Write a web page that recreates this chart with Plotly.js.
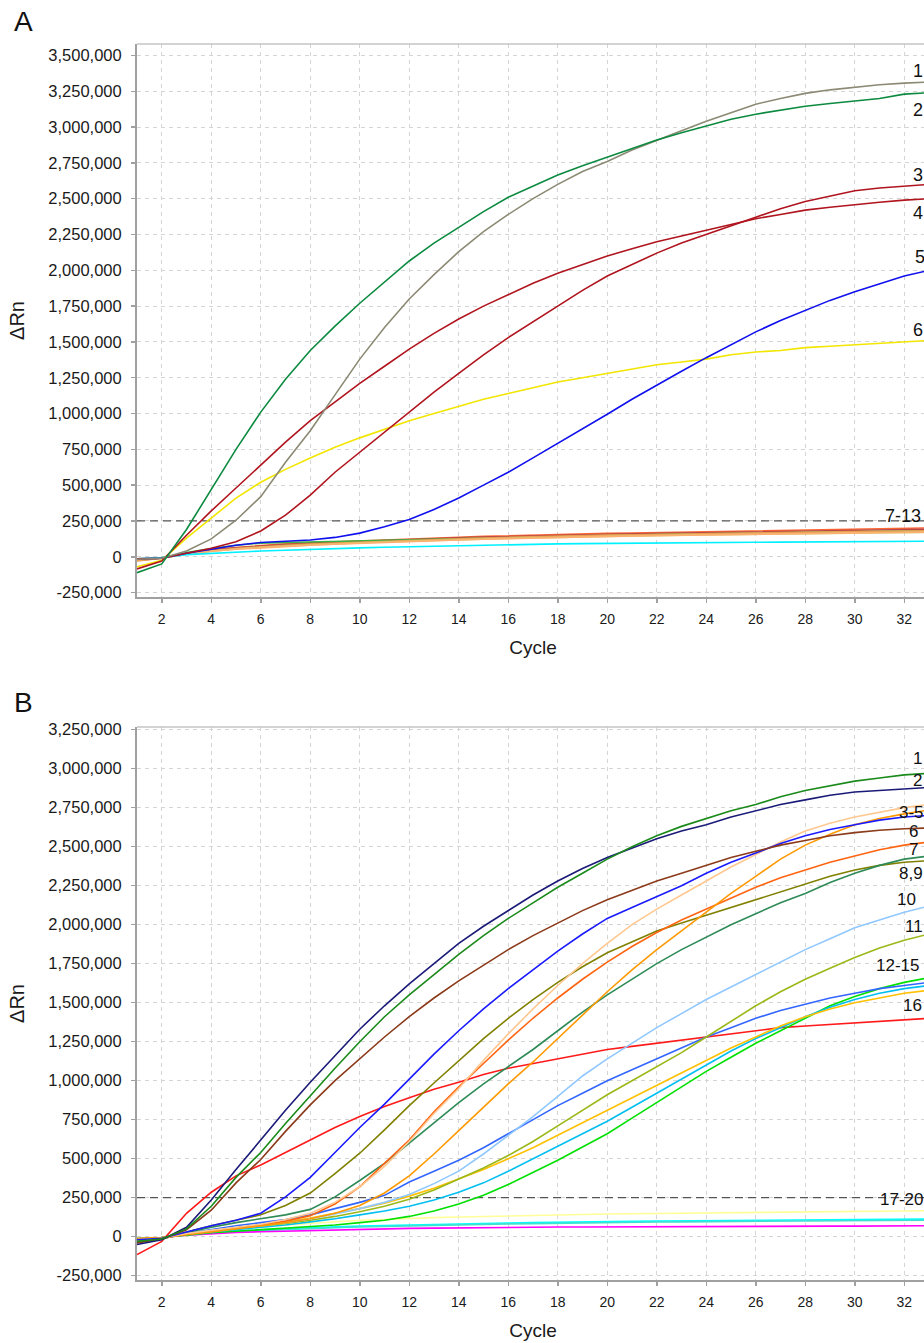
<!DOCTYPE html>
<html>
<head>
<meta charset="utf-8">
<script src="https://cdn.plot.ly/plotly-3.0.1.min.js"></script>
<style>
html,body{margin:0;padding:0;background:#fff;overflow:hidden;}
#chart{width:940px;height:1343px;}
</style>
</head>
<body>
<div id="chart"></div>
<script>
// ---------- DATA ----------
const cycles = [1,2,3,4,5,6,7,8,9,10,11,12,13,14,15,16,17,18,19,20,21,22,23,24,25,26,27,28,29,30,31,32,33];
const threshold = 250000;
const yTicksA = [-250000,0,250000,500000,750000,1000000,1250000,1500000,1750000,2000000,2250000,2500000,2750000,3000000,3250000,3500000];
const yTicksB = [-250000,0,250000,500000,750000,1000000,1250000,1500000,1750000,2000000,2250000,2500000,2750000,3000000,3250000];
const xTicks = [2,4,6,8,10,12,14,16,18,20,22,24,26,28,30,32];

// Panel A series (values in thousands of ΔRn)
const a1  = [-17,-10,40,125,255,420,660,880,1130,1380,1600,1800,1970,2130,2270,2390,2500,2600,2690,2760,2840,2910,2975,3040,3100,3160,3200,3235,3260,3280,3295,3307,3315];
const a2  = [-111,-50,190,470,750,1010,1240,1440,1610,1770,1920,2065,2190,2300,2410,2510,2590,2665,2730,2790,2850,2910,2960,3010,3055,3090,3120,3145,3165,3180,3200,3230,3240];
const a3  = [-15,-10,25,60,105,180,290,430,590,730,870,1010,1150,1280,1410,1530,1640,1750,1860,1960,2040,2120,2190,2250,2310,2370,2430,2480,2520,2555,2575,2590,2600];
const a4  = [-85,-30,150,320,480,640,800,950,1080,1210,1330,1450,1560,1660,1750,1830,1910,1980,2040,2100,2150,2200,2240,2280,2320,2360,2390,2420,2440,2460,2475,2490,2500];
const a5  = [-15,-10,25,55,80,100,107,117,135,165,210,260,330,410,500,590,690,790,895,995,1100,1200,1295,1390,1480,1570,1650,1720,1790,1850,1905,1960,2000];
const a6  = [-70,-25,130,270,410,520,610,690,765,830,890,950,1000,1050,1100,1140,1180,1220,1250,1280,1310,1340,1360,1380,1410,1430,1440,1460,1470,1480,1490,1500,1510];
const a7  = [-20,-8,25,50,65,80,90,98,105,112,118,124,130,136,142,147,152,156,160,163,166,169,172,175,178,181,184,187,190,193,196,199,201];
const a8  = [-25,-10,22,47,62,76,86,94,101,108,114,120,126,132,137,142,146,150,154,157,160,163,166,169,172,175,178,181,184,187,189,191,193];
const a9  = [-20,-8,30,58,80,95,100,104,108,112,116,120,124,128,132,136,140,143,146,149,152,155,158,161,164,167,170,172,174,176,178,180,182];
const a10 = [-30,-10,20,42,58,70,80,88,95,102,108,114,120,126,131,136,140,144,148,151,154,157,160,163,166,168,170,172,174,176,178,180,182];
const a11 = [-15,-8,20,40,55,66,75,83,90,97,103,109,114,119,124,128,132,136,139,142,145,148,151,153,155,157,159,161,163,165,167,169,170];
const a12 = [-20,-8,18,38,52,63,72,80,87,94,100,106,112,117,122,127,131,135,139,142,145,148,151,154,157,159,161,163,165,167,169,171,172];
const a13 = [-15,-5,15,25,32,40,45,52,57,62,66,70,74,78,82,85,88,90,92,94,96,97,98,99,100,101,102,103,104,105,106,107,108];

// Panel B series (values in thousands of ΔRn)
const b1  = [-30,-15,50,195,380,540,725,905,1080,1250,1410,1550,1680,1810,1930,2040,2140,2240,2330,2420,2500,2570,2630,2680,2730,2770,2820,2860,2890,2920,2940,2960,2970];
const b2  = [-50,-20,60,235,430,620,810,990,1160,1330,1480,1620,1750,1880,1990,2090,2190,2280,2360,2430,2490,2550,2600,2640,2690,2730,2770,2800,2830,2850,2860,2870,2880];
const b3  = [-20,-10,20,40,60,80,110,150,220,320,450,610,790,950,1130,1300,1460,1610,1750,1880,2000,2100,2190,2280,2370,2450,2530,2600,2650,2690,2720,2750,2770];
const b4  = [-10,-5,15,30,50,70,90,115,150,200,280,390,530,680,830,980,1120,1270,1420,1570,1710,1840,1960,2080,2200,2310,2420,2510,2580,2640,2680,2710,2735];
const b5  = [-20,-10,30,70,105,150,255,380,540,700,850,1010,1170,1320,1460,1590,1710,1830,1940,2040,2110,2180,2250,2330,2400,2460,2520,2570,2610,2640,2670,2690,2700];
const b6  = [-40,-15,45,170,345,495,675,845,1000,1140,1280,1410,1530,1640,1740,1840,1930,2010,2090,2160,2220,2280,2330,2380,2430,2470,2510,2540,2570,2590,2605,2615,2620];
const b7  = [-20,-10,15,35,55,75,100,135,210,320,470,620,800,960,1110,1260,1400,1530,1650,1760,1860,1950,2030,2100,2170,2240,2300,2350,2400,2440,2480,2510,2530];
const b8  = [-30,-15,25,60,90,115,140,175,255,360,470,600,730,860,980,1090,1200,1320,1440,1550,1650,1750,1840,1920,2000,2070,2140,2200,2270,2330,2380,2420,2440];
const b9  = [-30,-15,30,70,105,140,200,280,405,535,685,840,985,1130,1270,1400,1520,1630,1730,1820,1890,1960,2010,2060,2110,2160,2210,2260,2310,2350,2380,2400,2410];
const b10 = [-20,-10,20,40,60,75,90,115,145,180,220,270,340,420,530,650,770,900,1030,1140,1240,1340,1430,1520,1600,1680,1760,1840,1910,1980,2030,2080,2120];
const b11 = [-25,-10,20,40,55,70,85,105,130,160,195,240,300,370,440,520,610,710,810,910,1000,1090,1180,1280,1380,1480,1570,1650,1720,1790,1850,1900,1940];
const b12 = [-20,-10,20,45,70,90,110,140,180,220,265,350,420,490,570,660,750,840,920,1000,1070,1140,1210,1280,1340,1400,1450,1490,1530,1560,1590,1610,1630];
const b13 = [-15,-5,15,30,45,60,75,95,115,140,165,195,235,285,345,420,500,580,660,740,830,920,1010,1100,1190,1270,1340,1410,1470,1520,1560,1590,1610];
const b14 = [-15,-5,15,35,55,75,95,120,150,180,215,260,310,370,430,500,570,650,730,810,890,970,1050,1130,1210,1280,1350,1410,1460,1500,1530,1560,1580];
const b15 = [-15,-5,10,25,35,45,55,65,75,90,105,130,165,210,265,335,410,490,575,660,760,860,960,1060,1150,1240,1320,1400,1480,1540,1590,1630,1660];
const b16 = [-115,-30,150,285,390,460,540,620,700,770,835,890,945,990,1040,1080,1110,1140,1170,1200,1220,1240,1260,1280,1300,1320,1340,1350,1360,1370,1380,1390,1400];
const b17 = [-15,-5,20,40,55,65,75,85,95,105,110,118,122,126,130,134,138,140,142,145,147,149,151,153,155,157,159,160,162,163,165,166,167];
const b18 = [-10,-5,15,30,38,45,52,58,63,68,72,75,79,82,85,88,90,93,95,97,98,100,101,102,103,104,106,107,108,109,111,112,113];
const b19 = [-15,-5,10,20,27,32,36,40,44,47,50,53,55,57,58,60,61,62,62,63,64,64,65,65,66,66,67,67,68,68,69,69,70];
const b20 = [-10,-5,12,25,33,40,46,52,57,62,66,70,73,76,79,82,84,87,89,91,92,94,95,96,97,98,100,101,102,103,104,105,106];

const labelsA = ["1","2","3","4","5","6","7-13"];
const labelsB = ["1","2","3-5","6","7","8,9","10","11","12-15","16","17-20"];

// ---------- STYLES ----------
const seriesA = [a7,a8,a9,a10,a11,a12,a13,a6,a5,a3,a4,a1,a2];
const colorsA = ["#ff6633","#b84848","#3cb043","#e8a050","#d8c870","#ffb070","#00f0ff","#f2e600","#1010ee","#b0141e","#b0141e","#8c8a74","#0c8a40"];
const seriesB = [b17,b18,b20,b19,b16,b15,b13,b14,b12,b11,b10,b9,b8,b7,b4,b3,b5,b6,b2,b1];
const colorsB = ["#ffff99","#00ffff","#40e0d0","#ff00ff","#ff1a1a","#00e000","#00bff0","#ffc000","#3366ff","#9ab818","#90c8ff","#808000","#2e8b57","#ff6410","#ff9900","#ffc890","#1a1aff","#8b3a1a","#1a1a78","#1a8a1a"];

const K = 1000;
const traces = [];
seriesA.forEach((s,i)=>traces.push({x:cycles,y:s.map(v=>v*K),type:'scatter',mode:'lines',
  line:{color:colorsA[i],width:1.6},xaxis:'x',yaxis:'y',hoverinfo:'skip',showlegend:false}));
seriesB.forEach((s,i)=>traces.push({x:cycles,y:s.map(v=>v*K),type:'scatter',mode:'lines',
  line:{color:colorsB[i],width:1.6},xaxis:'x2',yaxis:'y2',hoverinfo:'skip',showlegend:false}));

const fmt = v => v.toLocaleString('en-US');
const FONT = '"Liberation Sans", Arial, sans-serif';
const gridc = '#d4d4d4', axc = '#a0a0a0';

function xax(anchor){
  return {anchor:anchor, domain:[0,1], range:[1,33], tickmode:'array', tickvals:xTicks, ticktext:xTicks.map(String),
    showgrid:true, gridcolor:gridc, griddash:'4px,4px', gridwidth:1, zeroline:false,
    showline:true, linecolor:axc, linewidth:2, ticks:'outside', ticklen:4, tickcolor:axc, tickwidth:1.5,
    ticklabelstandoff:4, tickfont:{size:14,color:'#1a1a1a',family:FONT},
    title:{text:'Cycle', font:{size:19,color:'#1a1a1a',family:FONT}, standoff:15}};
}
function yax(anchor, dom, rng, ticks){
  return {anchor:anchor, domain:dom, range:rng, tickmode:'array', tickvals:ticks, ticktext:ticks.map(fmt),
    showgrid:true, gridcolor:gridc, griddash:'4px,4px', gridwidth:1, zeroline:false,
    showline:true, linecolor:axc, linewidth:2, ticks:'outside', ticklen:4, tickcolor:axc, tickwidth:1.5,
    ticklabelstandoff:6, tickfont:{size:16.5,color:'#1a1a1a',family:FONT},
    title:{text:'ΔRn', font:{size:20,color:'#1a1a1a',family:FONT}, standoff:18}};
}

const domA = [0.55259,1], domB = [0,0.44741];
const annFont = {size:18,color:'#111',family:FONT};
const annFontB = {size:17,color:'#111',family:FONT};
const posA = [[32.29,3392000],[32.29,3117000],[32.29,2664000],[32.29,2399000],[32.37,2093000],[32.29,1583000],[31.15,284000]];
const posB = [[32.29,3062000],[32.29,2927000],[31.72,2722000],[32.13,2600000],[32.13,2479000],[31.72,2325000],[31.64,2164000],[31.96,1990000],[30.79,1740000],[31.88,1485000],[30.92,241000]];
const annotations = [];
labelsA.forEach((t,i)=>annotations.push({x:posA[i][0],y:posA[i][1],xref:'x',yref:'y',text:t,showarrow:false,xanchor:'left',yanchor:'middle',font:annFont}));
labelsB.forEach((t,i)=>annotations.push({x:posB[i][0],y:posB[i][1],xref:'x2',yref:'y2',text:t,showarrow:false,xanchor:'left',yanchor:'middle',font:annFontB}));
annotations.push({x:-0.158,y:1.0178,xref:'paper',yref:'paper',text:'A',showarrow:false,xanchor:'left',yanchor:'middle',font:{size:28,color:'#111',family:FONT}});
annotations.push({x:-0.158,y:0.4676,xref:'paper',yref:'paper',text:'B',showarrow:false,xanchor:'left',yanchor:'middle',font:{size:28,color:'#111',family:FONT}});

const shapes = [
  {type:'line',xref:'x',yref:'y',x0:1,x1:33,y0:threshold,y1:threshold,layer:'between',line:{color:'#555',width:1.3,dash:'8px,5px'}},
  {type:'line',xref:'x2',yref:'y2',x0:1,x1:33,y0:threshold,y1:threshold,layer:'between',line:{color:'#555',width:1.3,dash:'8px,5px'}},
  {type:'line',xref:'paper',yref:'paper',x0:0,x1:1,y0:domA[1],y1:domA[1],line:{color:'#c4c4c4',width:1.5}},
  {type:'line',xref:'paper',yref:'paper',x0:0,x1:1,y0:domB[1],y1:domB[1],line:{color:'#c4c4c4',width:1.5}}
];

const layout = {
  width:940, height:1343, autosize:false,
  margin:{l:137,r:11,t:44,b:63},
  paper_bgcolor:'#fff', plot_bgcolor:'#fff',
  font:{family:FONT,color:'#1a1a1a'},
  showlegend:false,
  xaxis:xax('y'), yaxis:yax('x',domA,[-281000,3580000],yTicksA),
  xaxis2:xax('y2'), yaxis2:yax('x2',domB,[-277600,3267000],yTicksB),
  annotations:annotations, shapes:shapes
};
Plotly.newPlot('chart',traces,layout,{staticPlot:true,displayModeBar:false});
</script>
</body>
</html>
